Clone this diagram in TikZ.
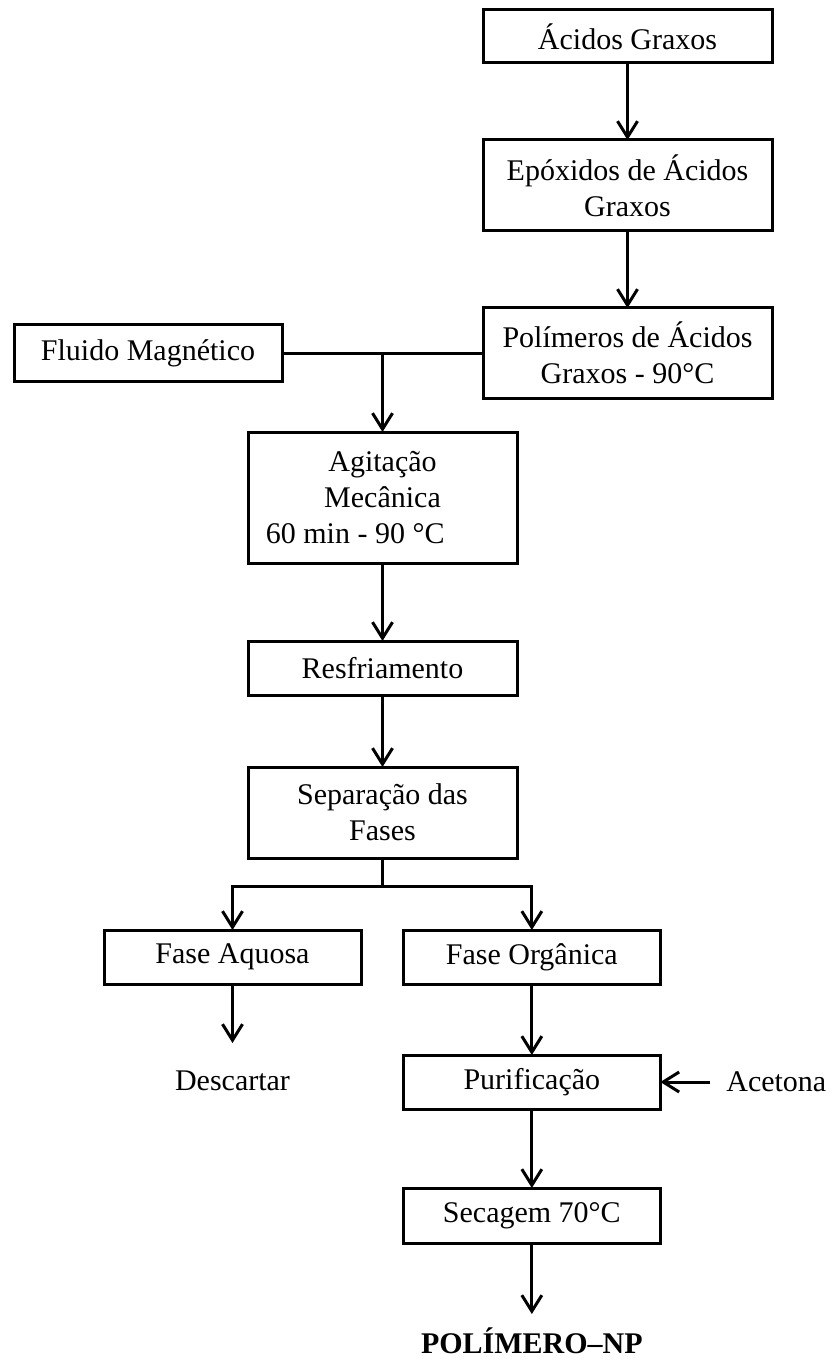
\documentclass[tikz,border=0pt]{standalone}
\usepackage{fontspec}
\setmainfont{Liberation Serif}
\usetikzlibrary{arrows.meta,calc,positioning}

\begin{document}
\begin{tikzpicture}[x=0.75pt,y=-0.75pt,>={Straight Barb[length=12pt,width=15pt]},line width=2.25pt,
  etapa/.style={draw,line width=2.25pt,align=center,inner sep=2pt,outer sep=0pt,font=\fontsize{22.5}{27}\selectfont},
  rotulo/.style={outer sep=0pt,font=\fontsize{22.5}{27}\selectfont}]
\useasboundingbox (0,0) rectangle (833,1362);
\node[etapa,minimum width=216.75pt,minimum height=39.75pt] (ag) at (627.5,36.5) {Ácidos Graxos};
\node[etapa,below=57.75pt of ag,minimum width=216.75pt,minimum height=68.25pt] (ep) {Epóxidos de Ácidos\\Graxos};
\node[etapa,below=57.75pt of ep,minimum width=216.75pt,minimum height=67.5pt] (pol) {Polímeros de Ácidos\\Graxos - 90°C};
\node[etapa,left=150.75pt of pol,minimum width=201pt,minimum height=42.75pt] (fm) {Fluido Magnético};
\coordinate (jun) at ($(fm.east)!.5!(pol.west)$);
\node[etapa,below=59.25pt of jun,minimum width=201.75pt,minimum height=98.25pt] (agi) {Agitação\\Mecânica\\60 min - 90 °C\hspace*{41pt}};
\node[etapa,below=58.5pt of agi,minimum width=201.75pt,minimum height=40.5pt] (res) {Resfriamento};
\node[etapa,below=54pt of res,minimum width=201.75pt,minimum height=68.25pt] (sep) {Separação das\\Fases};
\coordinate[below=21pt of sep] (div);
\node[etapa,below=54pt of sep,xshift=-112.5pt,minimum width=192.75pt,minimum height=40.5pt] (faq) {Fase Aquosa};
\node[etapa,below=54pt of sep,xshift=112pt,minimum width=192.75pt,minimum height=40.5pt] (forg) {Fase Orgânica};
\node[rotulo,below=44.25pt of faq,inner ysep=21pt] (desc) {Descartar};
\node[etapa,below=53.25pt of forg,minimum width=192.75pt,minimum height=40.5pt] (pur) {Purificação};
\node[rotulo,right=37.5pt of pur,inner xsep=12pt] (acet) {Acetona};
\node[etapa,below=59.25pt of pur,minimum width=192.75pt,minimum height=41.25pt] (sec) {Secagem 70°C};
\node[rotulo,below=53.25pt of sec,inner ysep=10pt,font=\fontsize{22.5}{27}\selectfont\bfseries] (np) {POLÍMERO–NP};
\draw[->] (ag)--(ep);\draw[->] (ep)--(pol);
\draw (fm)--(pol);\draw[->] (jun)--(agi);
\draw[->] (agi)--(res);\draw[->] (res)--(sep);
\draw (sep)--(div);\draw[->] (div)-|(faq.north);\draw[->] (div)-|(forg.north);
\draw[->] (faq)--(desc);
\draw[->] (forg)--(pur);\draw[->] (acet)--(pur);
\draw[->] (pur)--(sec);\draw[->] (sec)--(np);
\end{tikzpicture}
\end{document}
